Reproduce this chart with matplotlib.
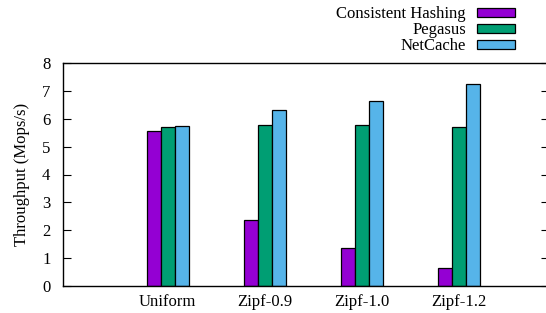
import numpy as np
import matplotlib
matplotlib.use('Agg')
import matplotlib.pyplot as plt

# -- Data
categories = ['Uniform', 'Zipf-0.9', 'Zipf-1.0', 'Zipf-1.2']
consistent = [5.56, 2.35, 1.38, 0.66]
pegasus    = [5.71, 5.77, 5.77, 5.72]
netcache   = [5.73, 6.31, 6.65, 7.23]
series_names = ['Consistent Hashing', 'Pegasus', 'NetCache']

# -- Plot settings
colors = ['#9400D3', '#009E73', '#56B4E9']
bw = 0.145

plt.rcParams['font.family'] = ['Liberation Serif', 'DejaVu Serif']
plt.rcParams['font.size'] = 12

fig = plt.figure(figsize=(5.46, 3.13), dpi=100)
W, H = 546.0, 313.0
ax = fig.add_axes([63 / W, 1 - 286 / H, (549 - 63) / W, (286 - 63) / H])

x = np.arange(len(categories))
for i, vals in enumerate([consistent, pegasus, netcache]):
    ax.bar(x + (i - 1) * bw, vals, bw, color=colors[i], edgecolor='black',
           linewidth=0.9, label=series_names[i], zorder=2)

ax.set_xlim(-1.08, 3.93)
ax.set_ylim(0, 8)
ax.set_yticks(range(0, 9))
ax.set_xticks(x)
ax.set_xticklabels(categories)
ax.tick_params(axis='y', direction='in', length=6, right=True, left=True,
               width=0.8, pad=9)
ax.tick_params(axis='x', length=0, pad=6)
ax.set_ylabel('Throughput (Mops/s)', labelpad=9)
for s in ax.spines.values():
    s.set_linewidth(1.0)

fig.legend(loc='upper right', bbox_to_anchor=(515 / W, 1.0 - 6 / H),
           frameon=False, markerfirst=False, handlelength=2.3,
           handleheight=0.45, labelspacing=0.0, handletextpad=0.65,
           borderaxespad=0.0, borderpad=0.0)

fig.savefig('out.png', dpi=100)
